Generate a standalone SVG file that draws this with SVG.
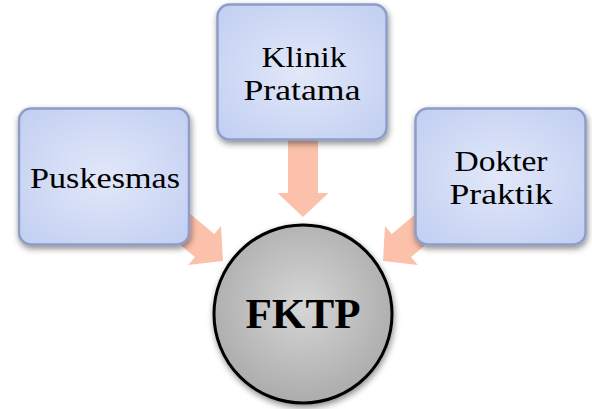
<svg xmlns="http://www.w3.org/2000/svg" width="592" height="409" viewBox="0 0 592 409">
  <defs>
    <radialGradient id="boxGrad" cx="50%" cy="50%" r="65%">
      <stop offset="0" stop-color="#e2e8f9"/>
      <stop offset="1" stop-color="#c3d0f2"/>
    </radialGradient>
    <radialGradient id="circGrad" cx="50%" cy="45%" r="55%">
      <stop offset="0" stop-color="#d6d6d6"/>
      <stop offset="1" stop-color="#acacac"/>
    </radialGradient>
    <filter id="shadow" x="-20%" y="-20%" width="140%" height="150%">
      <feDropShadow dx="1" dy="3" stdDeviation="3" flood-color="#000" flood-opacity="0.45"/>
    </filter>
    <polygon id="arrow" points="0,0 -25.5,-24 -15,-24 -15,-90 15,-90 15,-24 25.5,-24"/>
  </defs>
  <style>
    .box { fill: url(#boxGrad); stroke: #8d9dc7; stroke-width: 2.5; filter: url(#shadow); }
    .lbl { font-family: "Liberation Serif", "Times New Roman", serif; font-size: 29px; fill: #000; text-anchor: middle; }
    .arr { fill: #fcc1aa; }
    .hub { fill: url(#circGrad); stroke: #000; stroke-width: 3; filter: url(#shadow); }
    .hubtxt { font-family: "Liberation Serif", "Times New Roman", serif; font-size: 43px; font-weight: bold; fill: #000; text-anchor: middle; }
  </style>

  <g id="connectors">
    <use href="#arrow" class="arr" transform="translate(303,217)"/>
    <use href="#arrow" class="arr" transform="translate(223,261) rotate(-50)"/>
    <use href="#arrow" class="arr" transform="translate(383,261) rotate(50)"/>
  </g>

  <g id="puskesmas">
    <rect class="box" x="19" y="108.5" width="170" height="136" rx="12"/>
    <text class="lbl" x="105" y="188" font-size="32" textLength="150" lengthAdjust="spacingAndGlyphs">Puskesmas</text>
  </g>

  <g id="klinik-pratama">
    <rect class="box" x="217.5" y="4.5" width="169" height="135" rx="12"/>
    <text class="lbl" x="304" y="67" textLength="85" lengthAdjust="spacingAndGlyphs">Klinik</text>
    <text class="lbl" x="302" y="100" textLength="117" lengthAdjust="spacingAndGlyphs">Pratama</text>
  </g>

  <g id="dokter-praktik">
    <rect class="box" x="415.5" y="108.5" width="170" height="136" rx="12"/>
    <text class="lbl" x="501" y="171" textLength="93" lengthAdjust="spacingAndGlyphs">Dokter</text>
    <text class="lbl" x="501" y="204" textLength="103" lengthAdjust="spacingAndGlyphs">Praktik</text>
  </g>

  <g id="fktp">
    <circle class="hub" cx="303" cy="314" r="89"/>
    <text class="hubtxt" x="303" y="328" textLength="115" lengthAdjust="spacingAndGlyphs">FKTP</text>
  </g>
</svg>
